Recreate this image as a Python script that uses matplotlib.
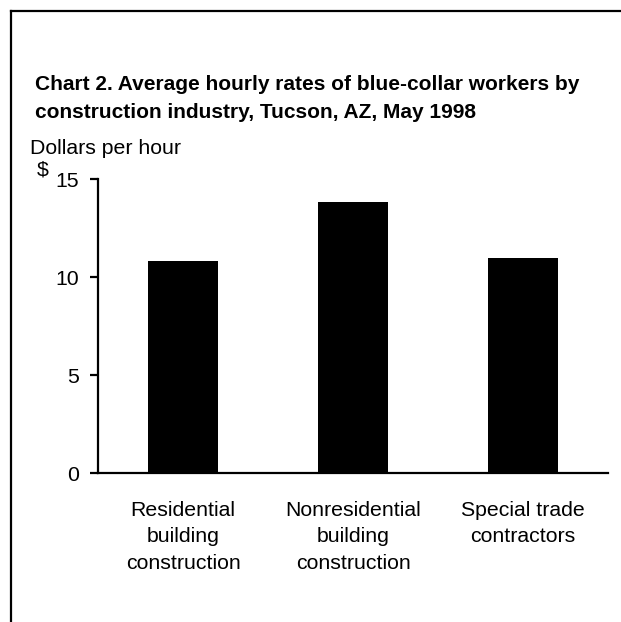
import matplotlib.pyplot as plt
from matplotlib.lines import Line2D

plt.rcParams['font.family'] = ['Liberation Sans', 'DejaVu Sans']

categories = ['Residential\nbuilding\nconstruction',
              'Nonresidential\nbuilding\nconstruction',
              'Special trade\ncontractors']
rates = [10.8, 13.85, 10.95]
yticks = [0, 5, 10, 15]

fig = plt.figure(figsize=(6.21, 6.22), dpi=100)
ax = fig.add_axes([0.158, 0.2395, 0.821, 0.4725])

x = range(len(categories))
ax.bar(x, rates, width=0.41, color='black')
ax.set_xlim(-0.5, 2.5)
ax.set_ylim(0, 15)
ax.set_yticks(yticks)
ax.set_xticks(list(x))
ax.set_xticklabels(categories, fontsize=15.3, linespacing=1.5)

for s in ['top', 'right']:
    ax.spines[s].set_visible(False)
for s in ['left', 'bottom']:
    ax.spines[s].set_linewidth(1.6)
ax.tick_params(axis='y', length=6, width=1.6, labelsize=15.3, pad=8)
ax.tick_params(axis='x', length=0, pad=20)

fig.text(35/621, 1 - 85/622, 'Chart 2. Average hourly rates of blue-collar workers by',
         fontsize=15, fontweight='bold', va='center')
fig.text(35/621, 1 - 112/622, 'construction industry, Tucson, AZ, May 1998',
         fontsize=15, fontweight='bold', va='center')
fig.text(30/621, 1 - 148/622, 'Dollars per hour', fontsize=15.3, va='center')
fig.text(37/621, 1 - 170/622, '$', fontsize=15.3, va='center')

# frame around the chart (left and top only)
fig.add_artist(Line2D([11/621, 11/621], [0, 1 - 11/622], color='black', lw=1.6))
fig.add_artist(Line2D([11/621, 1], [1 - 11/622, 1 - 11/622], color='black', lw=1.6))

fig.savefig('out.png', dpi=100)
